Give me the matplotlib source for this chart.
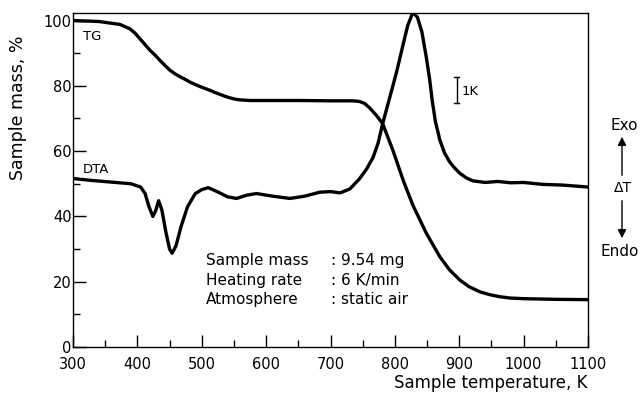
import matplotlib
matplotlib.use("Agg")
import matplotlib.pyplot as plt
from matplotlib.patches import FancyArrowPatch
from matplotlib.ticker import MultipleLocator

# TG curve (sample mass, %)
tg_temp = [300, 340, 373, 388, 396, 404, 412, 420, 428, 435, 443, 451, 459, 467, 475, 482, 490, 497, 505, 513,
           520, 528, 536, 544, 552, 559, 567, 575, 600, 650, 700, 735, 745, 753, 761, 771, 781, 797, 813, 828,
           849, 870, 885, 901, 915, 932, 948, 963, 979, 1000, 1050, 1100]
tg_mass = [100, 99.7, 98.8, 97.5, 96.2, 94.4, 92.6, 90.8, 89.3, 87.8, 86.2, 84.7, 83.6, 82.7, 81.9, 81.1, 80.4, 79.8, 79.2, 78.6,
           78.0, 77.4, 76.8, 76.3, 75.9, 75.7, 75.6, 75.5, 75.5, 75.5, 75.4, 75.4, 75.2, 74.6, 73.2, 71.0, 68.4, 60.2, 51.0, 43.4,
           34.8, 27.6, 23.6, 20.5, 18.5, 16.9, 16.0, 15.4, 15.0, 14.8, 14.6, 14.5]

# DTA curve (arbitrary scale on same axis)
dta_temp = [300, 330, 360, 390, 405, 412, 418, 424, 428, 433, 438, 444, 450, 454, 460, 468, 478, 490, 500, 510, 525,
            540, 554, 570, 585, 610, 637, 660, 683, 700, 715, 730, 745, 756, 766, 774, 781, 788, 795, 803, 812, 820, 828,
            835, 842, 849, 854, 858, 863, 870, 877, 885, 893, 901, 911, 921, 940, 960, 980, 1000, 1030, 1060, 1100]
dta_val = [51.6, 51.0, 50.5, 50.0, 49.0, 47.0, 43.0, 40.0, 41.5, 44.8, 42.0, 35.5, 30.0, 28.7, 31.0, 37.0, 43.0, 47.0, 48.2, 48.8, 47.5,
           46.0, 45.5, 46.5, 47.0, 46.2, 45.5, 46.2, 47.4, 47.6, 47.2, 48.4, 51.5, 54.5, 58.0, 62.5, 68.4, 73.5, 78.6, 84.5, 92.0, 98.5, 102.5,
           101.0, 96.5, 88.5, 82.0, 75.5, 69.0, 63.3, 59.5, 56.7, 54.8, 53.2, 51.8, 50.9, 50.4, 50.7, 50.3, 50.4, 49.8, 49.6, 49.0]

xticks = [300, 400, 500, 600, 700, 800, 900, 1000, 1100]
yticks = [0, 20, 40, 60, 80, 100]

info_labels = ["Sample mass", "Heating rate", "Atmosphere"]
info_values = [": 9.54 mg", ": 6 K/min", ": static air"]

fig = plt.figure(figsize=(6.42, 3.93), dpi=100)
ax = fig.add_axes([73/642, 1-347/393, (588-73)/642, (347-13)/393])

ax.plot(tg_temp, tg_mass, color="black", lw=2.4, solid_capstyle="round", solid_joinstyle="round")
ax.plot(dta_temp, dta_val, color="black", lw=2.4, solid_capstyle="round", solid_joinstyle="round")

ax.set_xlim(300, 1100)
ax.set_ylim(0, 102.3)
ax.set_xticks(xticks)
ax.set_yticks(yticks)
ax.xaxis.set_minor_locator(MultipleLocator(50))
ax.yaxis.set_minor_locator(MultipleLocator(10))
ax.tick_params(which="major", direction="in", length=9, width=1, labelsize=10.5)
ax.tick_params(axis="x", which="major", pad=7)
ax.tick_params(axis="y", which="major", pad=1)
ax.tick_params(which="minor", direction="in", length=5, width=1)
for s in ax.spines.values():
    s.set_linewidth(1.0)

ax.set_xlabel("Sample temperature, K", fontsize=12, loc="right", labelpad=2)
fig.text(18/642, 1-108/393, "Sample mass, %", rotation=90, ha="center", va="center", fontsize=12.5)

ax.text(315, 95.0, "TG", fontsize=9.5, va="center")
ax.text(315, 54.4, "DTA", fontsize=9.5, va="center")

info_y = [26.6, 20.5, 14.4]
for yy, lab, val in zip(info_y, info_labels, info_values):
    ax.text(507, yy, lab, fontsize=11, va="center")
    ax.text(701, yy, val, fontsize=11, va="center")

# 1K scale bar
ax.plot([896, 896], [74.6, 82.6], color="black", lw=1.0)
ax.plot([892, 900], [82.6, 82.6], color="black", lw=1.0)
ax.plot([892, 900], [74.6, 74.6], color="black", lw=1.0)
ax.text(903, 78.3, "1K", fontsize=9.5, va="center")

# Exo / Endo arrows (outside axes)
tr = fig.transFigure
def fx(px):
    return px/642
def fy(py):
    return 1-py/393
fig.text(fx(624), fy(125), "Exo", ha="center", va="center", fontsize=11)
fig.text(fx(623), fy(188), "ΔT", ha="center", va="center", fontsize=10)
fig.text(fx(620), fy(251), "Endo", ha="center", va="center", fontsize=11)
fig.add_artist(FancyArrowPatch((fx(622), fy(178)), (fx(622), fy(134)), transform=tr,
               arrowstyle="-|>,head_length=5,head_width=2.5", color="black", lw=1.0))
fig.add_artist(FancyArrowPatch((fx(622), fy(198)), (fx(622), fy(241)), transform=tr,
               arrowstyle="-|>,head_length=5,head_width=2.5", color="black", lw=1.0))

fig.savefig("out.png", dpi=100)
